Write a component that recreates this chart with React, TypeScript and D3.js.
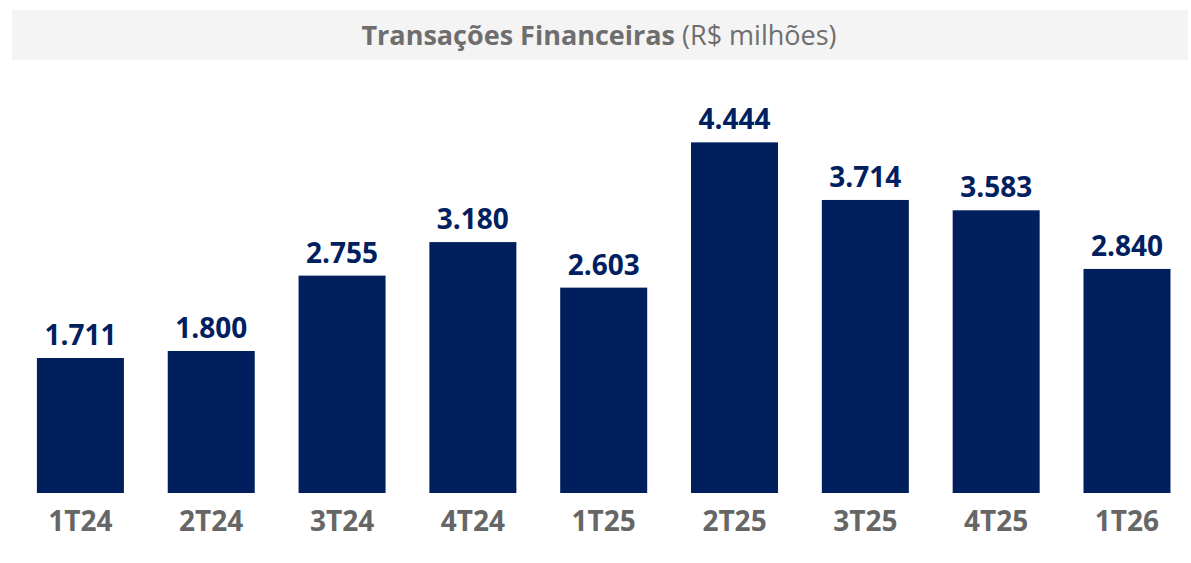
import { scaleBand, scaleLinear } from 'd3'

const categories = ['1T24', '2T24', '3T24', '4T24', '1T25', '2T25', '3T25', '4T25', '1T26']
const values = [1711, 1800, 2755, 3180, 2603, 4444, 3714, 3583, 2840]
const valueLabels = ['1.711', '1.800', '2.755', '3.180', '2.603', '4.444', '3.714', '3.583', '2.840']

const titleBold = 'Transações Financeiras'
const titleRest = ' (R$ milhões)'

export default function App() {
	const width = 1191
	const height = 563
	const baseline = 493

	const x = scaleBand<string>()
		.domain(categories)
		.range([15, 1192.4])
		.paddingInner(0.335)
		.paddingOuter(0.1675)

	const y = scaleLinear().domain([0, 5000]).range([baseline, baseline - 394.5])

	return (
		<svg
			width={width}
			height={height}
			viewBox={`0 0 ${width} ${height}`}
			style={{ position: 'absolute', left: 0, top: 0, fontFamily: '"Open Sans", sans-serif' }}
		>
			<rect x={0} y={0} width={width} height={height} fill="#fff" />
			<rect x={12} y={10} width={1176} height={50} fill="#f4f4f4" />
			<text x={599} y={45} textAnchor="middle" fontSize={27} fill="#6e6e6e">
				<tspan fontWeight={700}>{titleBold}</tspan>
				<tspan>{titleRest}</tspan>
			</text>

			{categories.map((cat, i) => {
				const bx = x(cat) ?? 0
				const cx = bx + x.bandwidth() / 2
				return (
					<g key={cat}>
						<rect x={bx} y={y(values[i])} width={x.bandwidth()} height={baseline - y(values[i])} fill="#001f5c" />
						<text x={cx} y={y(values[i]) - 13} textAnchor="middle" fontSize={28} fontWeight={700} fill="#002060">
							{valueLabels[i]}
						</text>
						<text x={cx} y={531} textAnchor="middle" fontSize={28} fontWeight={700} fill="#666666">
							{cat}
						</text>
					</g>
				)
			})}
		</svg>
	)
}
